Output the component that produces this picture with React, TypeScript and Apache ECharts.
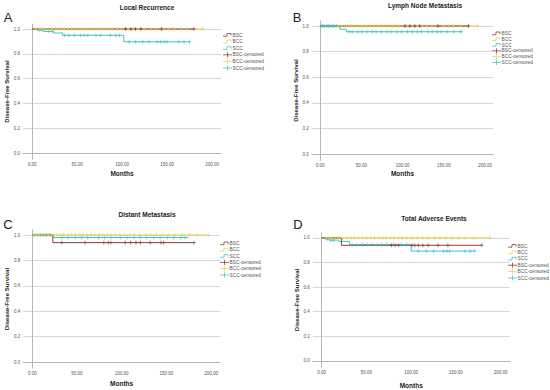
import React, { useEffect, useRef } from 'react';
import * as echarts from 'echarts';

// ---------- data (months, survival) ----------
const groups = ['BSC', 'BCC', 'SCC'];
const xTicks = [0, 50, 100, 150, 200];
const yTicks = [0, 0.2, 0.4, 0.6, 0.8, 1.0];
const panelTitles = ['Local Recurrence', 'Lymph Node Metastasis', 'Distant Metastasis', 'Total Adverse Events'];
const panelLetters = ['A', 'B', 'C', 'D'];

// Panel A – Local Recurrence
const A_BSC_steps = [[0, 1], [180, 1]];
const A_BSC_cens = [104, 110, 115, 121, 144, 180];
const A_BCC_steps = [[0, 1], [190, 1]];
const A_BCC_cens = [4, 8, 11, 14, 18, 22, 26, 29, 33, 36, 40, 44, 47, 51, 55, 58, 62, 66, 70, 74, 78, 82, 86, 90, 95, 100, 107, 113, 118, 125, 132, 138, 146, 152, 158, 166, 172, 190];
const A_SCC_steps = [[0, 1], [6, 0.99], [13, 0.98], [24, 0.968], [34, 0.949], [102, 0.897], [175, 0.897]];
const A_SCC_cens = [8, 11, 19, 23, 36, 41, 47, 54, 58, 62, 71, 76, 87, 93, 97, 108, 115, 123, 130, 139, 143, 147, 150, 163, 169, 175];

// Panel B – Lymph Node Metastasis
const B_BSC_steps = [[0, 1], [180, 1]];
const B_BSC_cens = [103, 109, 115, 121, 143, 180];
const B_BCC_steps = [[0, 1], [191, 1]];
const B_BCC_cens = [22, 26, 31, 35, 38, 42, 46, 50, 53, 57, 61, 65, 69, 72, 76, 80, 84, 88, 92, 96, 101, 106, 112, 118, 124, 130, 136, 142, 150, 156, 162, 170, 191];
const B_SCC_steps = [[0, 1], [24, 0.974], [32, 0.955], [173, 0.955]];
const B_SCC_cens = [1, 3, 5, 8, 10, 12, 15, 17, 20, 35, 39, 46, 51, 57, 63, 68, 74, 81, 86, 93, 99, 106, 112, 118, 123, 131, 136, 142, 147, 154, 162, 171];

// Panel C – Distant Metastasis
const C_BSC_steps = [[0, 1], [23, 0.94], [181, 0.94]];
const C_BSC_cens = [33, 59, 80, 85, 88, 104, 110, 116, 121, 132, 144, 147, 181];
const C_BCC_steps = [[0, 1], [197, 1]];
const C_BCC_cens = [2, 5, 8, 11, 14, 18, 22, 27, 31, 35, 40, 44, 48, 53, 57, 61, 66, 70, 75, 79, 84, 88, 93, 98, 103, 109, 114, 120, 127, 133, 139, 146, 153, 160, 168, 176, 185, 197];
const C_SCC_steps = [[0, 1], [24, 0.98], [175, 0.98]];
const C_SCC_cens = [2, 5, 9, 13, 16, 20, 33, 40, 48, 55, 62, 74, 81, 88, 99, 106, 114, 121, 128, 136, 143, 151, 158, 166, 171];

// Panel D – Total Adverse Events
const D_BSC_steps = [[0, 1], [22, 0.94], [179, 0.94]];
const D_BSC_cens = [78, 82, 86, 101, 104, 108, 113, 119, 130, 141, 179];
const D_BCC_steps = [[0, 1], [188, 1]];
const D_BCC_cens = [5, 8, 11, 15, 19, 23, 28, 33, 37, 41, 46, 50, 55, 59, 64, 68, 72, 77, 81, 86, 90, 95, 101, 107, 113, 119, 126, 132, 139, 146, 153, 160, 170, 188];
const D_SCC_steps = [[0, 1], [4, 0.99], [8, 0.982], [19, 0.972], [31, 0.945], [100, 0.893], [171, 0.893]];
const D_SCC_cens = [6, 10, 13, 34, 39, 45, 51, 56, 62, 67, 73, 80, 89, 95, 108, 117, 125, 136, 140, 143, 160, 166, 171];

const panelData = [
  { BSC: [A_BSC_steps, A_BSC_cens], BCC: [A_BCC_steps, A_BCC_cens], SCC: [A_SCC_steps, A_SCC_cens] },
  { BSC: [B_BSC_steps, B_BSC_cens], BCC: [B_BCC_steps, B_BCC_cens], SCC: [B_SCC_steps, B_SCC_cens] },
  { BSC: [C_BSC_steps, C_BSC_cens], BCC: [C_BCC_steps, C_BCC_cens], SCC: [C_SCC_steps, C_SCC_cens] },
  { BSC: [D_BSC_steps, D_BSC_cens], BCC: [D_BCC_steps, D_BCC_cens], SCC: [D_SCC_steps, D_SCC_cens] },
];

// ---------- layout & style ----------
const COLORS: Record<string, string> = { BSC: '#8E3B3B', BCC: '#E5D453', SCC: '#3FC6CC' };
const FONT = '"Liberation Sans", Arial, sans-serif';
// pixel anchors: x of 0 & 200 months, y of 1.0 & 0.0
const layout = [
  { px0: 32, px200: 212, y1: 29, y0: 153, title: [147, 7], letter: [8, 17], legend: [223, 35, 6.6], xGap: 11, yGap: 11 },
  { px0: 320, px200: 485, y1: 26, y0: 154, title: [425, 5], letter: [297, 17], legend: [492, 33.5, 5.8], xGap: 10, yGap: 11 },
  { px0: 32.3, px200: 211, y1: 235, y0: 362, title: [147, 214], letter: [8, 224], legend: [220, 243.5, 6.3], xGap: 12, yGap: 11 },
  { px0: 321.7, px200: 500.7, y1: 238, y0: 363, title: [434, 218], letter: [298, 224], legend: [508, 246, 6.4], xGap: 15, yGap: 10.5 },
];
const X_MIN = -10, X_MAX = 210, Y_MIN = -0.05, Y_MAX = 1.04;

function survAt(steps: number[][], t: number) {
  let s = 1;
  for (const [tt, v] of steps) if (tt <= t) s = v;
  return s;
}

function buildOption() {
  const grid: any[] = [], xAxis: any[] = [], yAxis: any[] = [], series: any[] = [], graphic: any[] = [];
  layout.forEach((L, i) => {
    const ux = (L.px200 - L.px0) / 200;
    const uy = L.y0 - L.y1;
    grid.push({
      left: L.px0 + X_MIN * ux,
      width: (X_MAX - X_MIN) * ux,
      top: L.y1 - (Y_MAX - 1) * uy,
      height: (Y_MAX - Y_MIN) * uy,
      containLabel: false,
    });
    xAxis.push({
      type: 'value', gridIndex: i, min: X_MIN, max: X_MAX,
      name: 'Months', nameLocation: 'middle', nameGap: L.xGap,
      nameTextStyle: { fontFamily: FONT, fontSize: 6.5, fontWeight: 'bold', color: '#222' },
      axisLine: { show: true, lineStyle: { color: '#b5b5b5', width: 1 } },
      axisTick: { show: false, customValues: xTicks },
      axisLabel: { customValues: xTicks, formatter: (v: number) => v.toFixed(2), fontSize: 4.5, color: '#555', fontFamily: FONT, margin: 3 },
      splitLine: { show: false },
    });
    yAxis.push({
      type: 'value', gridIndex: i, min: Y_MIN, max: Y_MAX,
      name: 'Disease-Free Survival', nameLocation: 'middle', nameGap: L.yGap,
      nameTextStyle: { fontFamily: FONT, fontSize: 6, fontWeight: 'bold', color: '#222' },
      axisLine: { show: true, lineStyle: { color: '#b5b5b5', width: 1 } },
      axisTick: { show: false, customValues: yTicks },
      axisLabel: { customValues: yTicks, formatter: (v: number) => v.toFixed(1), fontSize: 4.5, color: '#555', fontFamily: FONT, margin: 3 },
      splitLine: { show: true, lineStyle: { color: '#d6d6d6', width: 1 } },
    });
    const pd: any = panelData[i];
    ['SCC', 'BCC', 'BSC'].forEach((g) => {
      const [steps] = pd[g];
      series.push({
        type: 'line', name: g, xAxisIndex: i, yAxisIndex: i, step: 'end',
        data: steps, showSymbol: false, symbol: 'none',
        lineStyle: { color: COLORS[g], width: 1 }, itemStyle: { color: COLORS[g] },
        z: 2, silent: true,
      });
    });
    ['SCC', 'BCC', 'BSC'].forEach((g) => {
      const [steps, cens] = pd[g];
      series.push({
        type: 'scatter', name: g + '-censored', xAxisIndex: i, yAxisIndex: i,
        data: cens.map((t: number) => [t, survAt(steps, t)]),
        symbol: 'path://M5,0L5,10M0,5L10,5', symbolSize: [3, 4],
        itemStyle: { color: 'none', borderColor: COLORS[g], borderWidth: 0.7, opacity: 0.9 },
        z: 3, silent: true,
      });
    });
    // titles & letters
    graphic.push({
      type: 'text', x: L.title[0], y: L.title[1],
      style: { text: panelTitles[i], fontFamily: FONT, fontSize: 6.5, fontWeight: 'bold', fill: '#222', align: 'center', verticalAlign: 'middle' },
    });
    graphic.push({
      type: 'text', x: L.letter[0], y: L.letter[1],
      style: { text: panelLetters[i], fontFamily: FONT, fontSize: 13, fill: '#222', align: 'center', verticalAlign: 'middle' },
    });
    // legend
    const [lx, ly, ls] = L.legend;
    const items = [
      ...groups.map((g) => ({ name: g, color: COLORS[g], cens: false })),
      ...groups.map((g) => ({ name: g + '-censored', color: COLORS[g], cens: true })),
    ];
    items.forEach((it, k) => {
      const cy = ly + k * ls;
      if (!it.cens) {
        graphic.push({
          type: 'polyline',
          shape: { points: [[lx, cy + 1.2], [lx + 4, cy + 1.2], [lx + 4, cy - 1.5], [lx + 8, cy - 1.5], [lx + 8, cy + 0.5]] },
          style: { stroke: it.color, fill: 'none', lineWidth: 0.8 },
        });
      } else {
        graphic.push({ type: 'line', shape: { x1: lx, y1: cy, x2: lx + 9, y2: cy }, style: { stroke: it.color, lineWidth: 0.8 } });
        graphic.push({ type: 'line', shape: { x1: lx + 4.5, y1: cy - 2.5, x2: lx + 4.5, y2: cy + 2.5 }, style: { stroke: it.color, lineWidth: 0.8 } });
      }
      graphic.push({
        type: 'text', x: lx + 9.5, y: cy,
        style: { text: it.name, fontFamily: FONT, fontSize: 4.8, fill: '#555', align: 'left', verticalAlign: 'middle' },
      });
    });
  });
  return { animation: false, backgroundColor: '#ffffff', grid, xAxis, yAxis, series, graphic };
}

export default function App() {
  const ref = useRef<HTMLDivElement>(null);
  useEffect(() => {
    if (!ref.current) return;
    const chart = echarts.init(ref.current, undefined, { renderer: 'svg' });
    chart.setOption(buildOption() as any);
    return () => chart.dispose();
  }, []);
  return <div ref={ref} style={{ position: 'fixed', left: 0, top: 0, width: 550, height: 390, background: '#fff' }} />;
}
